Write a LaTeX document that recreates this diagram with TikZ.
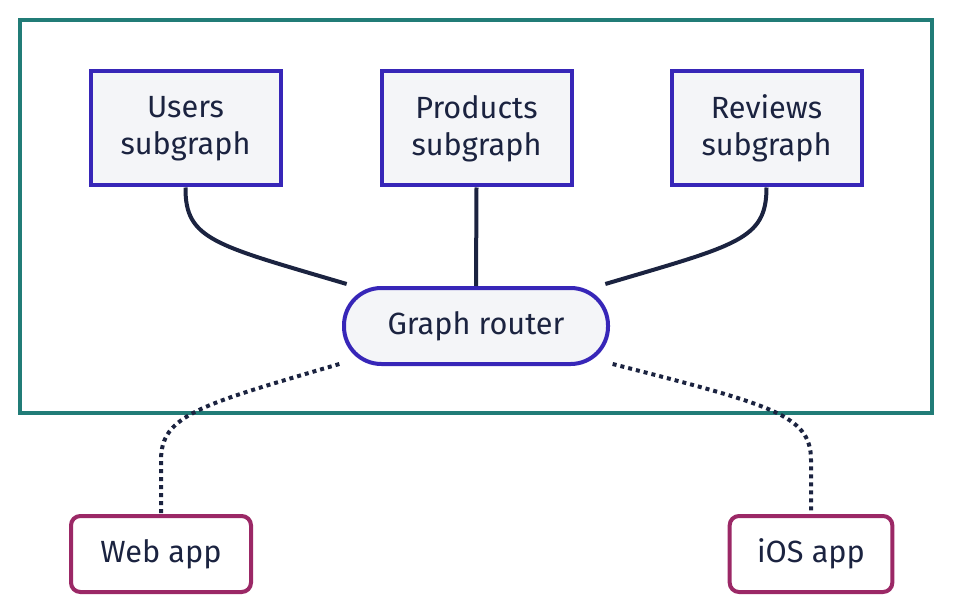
\documentclass[tikz,border=0pt]{standalone}
\usepackage{fontspec}
\setmainfont{Fira Sans}
\definecolor{frameTeal}{HTML}{217C77}
\definecolor{nodeBlue}{HTML}{3726B8}
\definecolor{nodeFill}{HTML}{F4F5F8}
\definecolor{inkNavy}{HTML}{1B2340}
\definecolor{appPlum}{HTML}{9B2866}
\begin{document}
\begin{tikzpicture}[x=0.75pt, y=-0.75pt, font=\fontsize{23}{28}\selectfont, text=inkNavy,
    subStyle/.style={rectangle, draw=nodeBlue, fill=nodeFill, line width=3pt, minimum width=142.5pt, minimum height=85.5pt, align=center, inner sep=0pt},
    routerStyle/.style={rectangle, rounded corners=28pt, draw=nodeBlue, fill=nodeFill, line width=3pt, minimum width=198pt, minimum height=57pt, inner sep=0pt},
    appStyle/.style={rectangle, rounded corners=7pt, draw=appPlum, line width=3pt, minimum height=57pt, inner sep=0pt},
    linkStyle/.style={draw=inkNavy, line width=3pt},
    dotStyle/.style={draw=inkNavy, line width=3pt, dash pattern=on 3pt off 3pt}]
    \useasboundingbox (0,0) rectangle (953,613);
    \draw[frameTeal, line width=3pt] (20,20) rectangle (932,413);
    \node[subStyle] (users)    at (185.5, 128.5) {Users\\subgraph};
    \node[subStyle] (products) at (476.5, 128.5) {Products\\subgraph};
    \node[subStyle] (reviews)  at (766.5, 128.5) {Reviews\\subgraph};
    \node[routerStyle] (router) at (476, 326) {Graph router};
    \node[appStyle, minimum width=135pt] (web) at (161, 554) {Web app};
    \node[appStyle, minimum width=122pt] (ios) at (811, 554) {iOS app};
    \draw[linkStyle] (users.south) .. controls (185,240) and (215,245) .. ([xshift=3.5pt,yshift=1.5pt]router.north west);
    \draw[linkStyle] (products.south) -- (router.north);
    \draw[linkStyle] (reviews.south) .. controls (766.5,240) and (737,245) .. ([xshift=-3.5pt,yshift=1.5pt]router.north east);
    \draw[dotStyle] ([xshift=-2pt,yshift=1.5pt]router.south west) .. controls (200,405) and (161,415) .. (161,460) -- (web.north);
    \draw[dotStyle] ([xshift=2pt,yshift=1.5pt]router.south east) .. controls (772,405) and (811,415) .. (811,460) -- (ios.north);
\end{tikzpicture}
\end{document}
